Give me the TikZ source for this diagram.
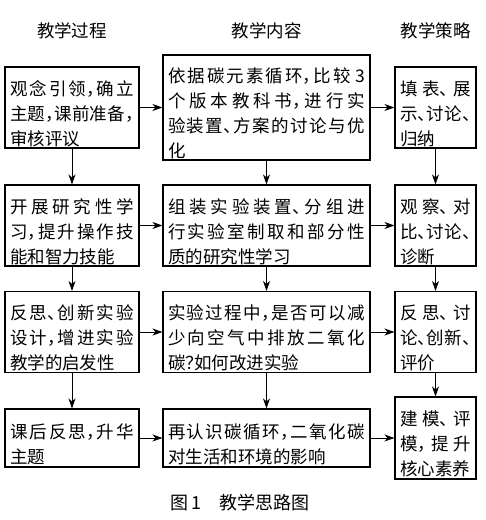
\documentclass[tikz,border=0pt]{standalone}
\usepackage{fontspec}
\setmainfont{Noto Sans CJK SC}[CharacterWidth=AlternateHalf]
\usetikzlibrary{arrows.meta}
\XeTeXlinebreaklocale "zh"
\XeTeXlinebreakskip=0pt plus 0.5em
\tolerance=10000
\newcommand{\bodyfont}{\fontsize{17.5}{25}\selectfont}
\tikzset{
  every picture/.style={line width=1pt},
  stepbox/.style={draw, line width=1.1pt, align=justify, inner xsep=5pt, inner ysep=0pt, text height=27pt, font=\bodyfont},
  procbox/.style={stepbox, text width=124pt},
  contbox/.style={stepbox, text width=197pt},
  stratbox/.style={stepbox, text width=71pt},
  arrow/.style={-{Stealth[length=10pt, width=7pt, inset=3pt]}, line width=0.9pt},
  head/.style={font=\bodyfont},
  caption/.style={font=\fontsize{18}{22}\selectfont},
}

\begin{document}
\begin{tikzpicture}[x=1pt, y=-1pt]
  \useasboundingbox (0,0) rectangle (486,520);
  % column heads
  \node[head] (hp) at (72,31) {教学过程};
  \node[head] (hc) at (266.5,31) {教学内容};
  \node[head] (hs) at (435.5,31) {教学策略};
  % teaching process
  \node[procbox, minimum height=81pt] (p1) at (72,107.5) {观念引领，确立\linebreak 主题，课前准备，\linebreak 审核评议};
  \node[procbox, minimum height=81pt] (p2) at (72,225.5) {开展研究性学\linebreak 习，提升操作技\linebreak 能和智力技能};
  \node[procbox, minimum height=81pt] (p3) at (72,332) {反思、创新实验\linebreak 设计，增进实验\linebreak 教学的启发性};
  \node[procbox, minimum height=58pt] (p4) at (72,438) {课后反思，升华\linebreak 主题};
  % teaching content
  \node[contbox, minimum height=105pt] (c1) at (266.5,107.5) {依据碳元素循环，比较 3\linebreak 个版本教科书，进行实\linebreak 验装置、方案的讨论与优\linebreak 化};
  \node[contbox, minimum height=81pt] (c2) at (266.5,225.5) {组装实验装置、分组进\linebreak 行实验室制取和部分性\linebreak 质的研究性学习};
  \node[contbox, minimum height=81pt] (c3) at (266.5,332) {实验过程中，是否可以减\linebreak 少向空气中排放二氧化\linebreak 碳？如何改进实验};
  \node[contbox, minimum height=58pt] (c4) at (266.5,438) {再认识碳循环，二氧化碳\linebreak 对生活和环境的影响};
  % teaching strategy
  \node[stratbox, minimum height=81pt] (s1) at (435.5,107.5) {填表、展\linebreak 示、讨论、\linebreak 归纳};
  \node[stratbox, minimum height=81pt] (s2) at (435.5,225.5) {观察、对\linebreak 比、讨论、\linebreak 诊断};
  \node[stratbox, minimum height=81pt] (s3) at (435.5,332) {反思、讨\linebreak 论、创新、\linebreak 评价};
  \node[stratbox, minimum height=82pt] (s4) at (435.5,438) {建模、评\linebreak 模，提升\linebreak 核心素养};
  % arrows
  \foreach \r in {1,...,4} {
    \draw[arrow] (p\r) -- (c\r);
    \draw[arrow] (c\r) -- (s\r);
  }
  \foreach \c in {p,c,s} {
    \foreach \r/\n in {1/2,2/3,3/4}
      \draw[arrow] (\c\r) -- (\c\n);
  }
  \node[caption] (cap) at (240,503) {图\,1\quad 教学思路图};
\end{tikzpicture}
\end{document}
